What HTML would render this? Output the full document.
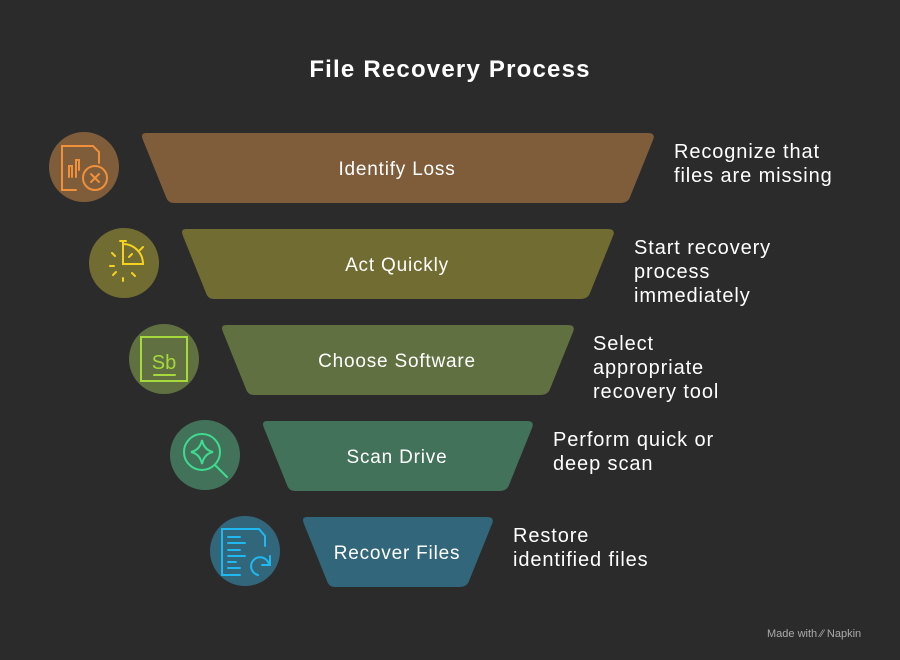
<!DOCTYPE html>
<html><head><style>
body{margin:0;background:#2b2b2b;}
svg{display:block}
text{font-family:"Liberation Sans",sans-serif;}
</style></head><body>
<svg width="900" height="660" viewBox="0 0 900 660">
<rect width="900" height="660" fill="#2b2b2b"/>
<text x="450" y="77" text-anchor="middle" fill="#fff" font-size="24" font-weight="bold" letter-spacing="1.2">File Recovery Process</text>

<g stroke-linejoin="round">
<path d="M146 133 H648 Q656 133 653 140 L630 197 Q628 203 620 203 H174 Q168 203 166 197 L143 140 Q140 133 146 133Z" fill="#7f5d3b"/>
<path d="M186 229 H608 Q616 229 613 236 L590 293 Q588 299 580 299 H214 Q208 299 206 293 L183 236 Q180 229 186 229Z" fill="#716c31"/>
<path d="M226 325 H568 Q576 325 573 332 L550 389 Q548 395 540 395 H254 Q248 395 246 389 L223 332 Q220 325 226 325Z" fill="#607040"/>
<path d="M267 421 H527 Q535 421 532 428 L509 485 Q507 491 499 491 H295 Q289 491 287 485 L264 428 Q261 421 267 421Z" fill="#43725a"/>
<path d="M307 517 H487 Q495 517 492 524 L469 581 Q467 587 459 587 H335 Q329 587 327 581 L304 524 Q301 517 307 517Z" fill="#32667a"/>
</g>
<g fill="#fff" font-size="19" text-anchor="middle" letter-spacing="0.8">
<text x="397" y="175">Identify Loss</text>
<text x="397" y="271">Act Quickly</text>
<text x="397" y="367">Choose Software</text>
<text x="397" y="463">Scan Drive</text>
<text x="397" y="559">Recover Files</text>
</g>

<circle cx="84" cy="167" r="35" fill="#7f5d3b"/>
<circle cx="124" cy="263" r="35" fill="#716c31"/>
<circle cx="164" cy="359" r="35" fill="#607040"/>
<circle cx="205" cy="455" r="35" fill="#43725a"/>
<circle cx="245" cy="551" r="35" fill="#32667a"/>

<g fill="none" stroke-width="2" stroke-linecap="round">
<g stroke="#f0903a">
<path d="M76 190 H62 V146 H93 L99 152 V163"/>
<circle cx="95" cy="178" r="12"/>
<path d="M91 174 L99 182 M99 174 L91 182 M69 177 V166 H72 V177 M76 177 V160 H79 V170"/>
</g>
<g stroke="#f5d21f">
<path d="M123 242 V264 H143 A20 20 0 0 0 123 244 M120 241 H126 M140 250 L143 247 M129 257 L132 254 M112 253 L115 256 M110 266 H114 M113 275 L116 272 M123 278 V281 M132 273 L135 276"/>
</g>
<g stroke="#a6d93b">
<rect x="141" y="337" width="46" height="44"/>
<path d="M154 375 H175"/>
</g>
<text x="164" y="369" text-anchor="middle" fill="#a6d93b" font-size="20">Sb</text>
<g stroke="#3ddc91">
<circle cx="202" cy="452" r="18"/>
<path d="M215 465 L227 477 M202 440 Q204 450 213 452 Q204 454 202 464 Q200 454 191 452 Q200 450 202 440Z"/>
</g>
<g stroke="#1fb8f0">
<path d="M240 575 H222 V529 H259 L265 536 V546 M228 537 H240 M228 543 H245 M228 550 H240 M228 556 H245 M228 562 H236 M228 568 H240"/>
<path d="M269 565 A9 9 0 1 0 258 575 M270 556 V565 H262"/>
</g>
</g>

<g fill="#fff" font-size="20" letter-spacing="0.9">
<text x="674" y="158">Recognize that</text>
<text x="674" y="182">files are missing</text>
<text x="634" y="254">Start recovery</text>
<text x="634" y="278">process</text>
<text x="634" y="302">immediately</text>
<text x="593" y="350">Select</text>
<text x="593" y="374">appropriate</text>
<text x="593" y="398">recovery tool</text>
<text x="553" y="446">Perform quick or</text>
<text x="553" y="470">deep scan</text>
<text x="513" y="542">Restore</text>
<text x="513" y="566">identified files</text>
</g>
<text x="767" y="637" fill="#aaa" font-size="11">Made with ⁄⁄ Napkin</text>
</svg>
</body></html>
